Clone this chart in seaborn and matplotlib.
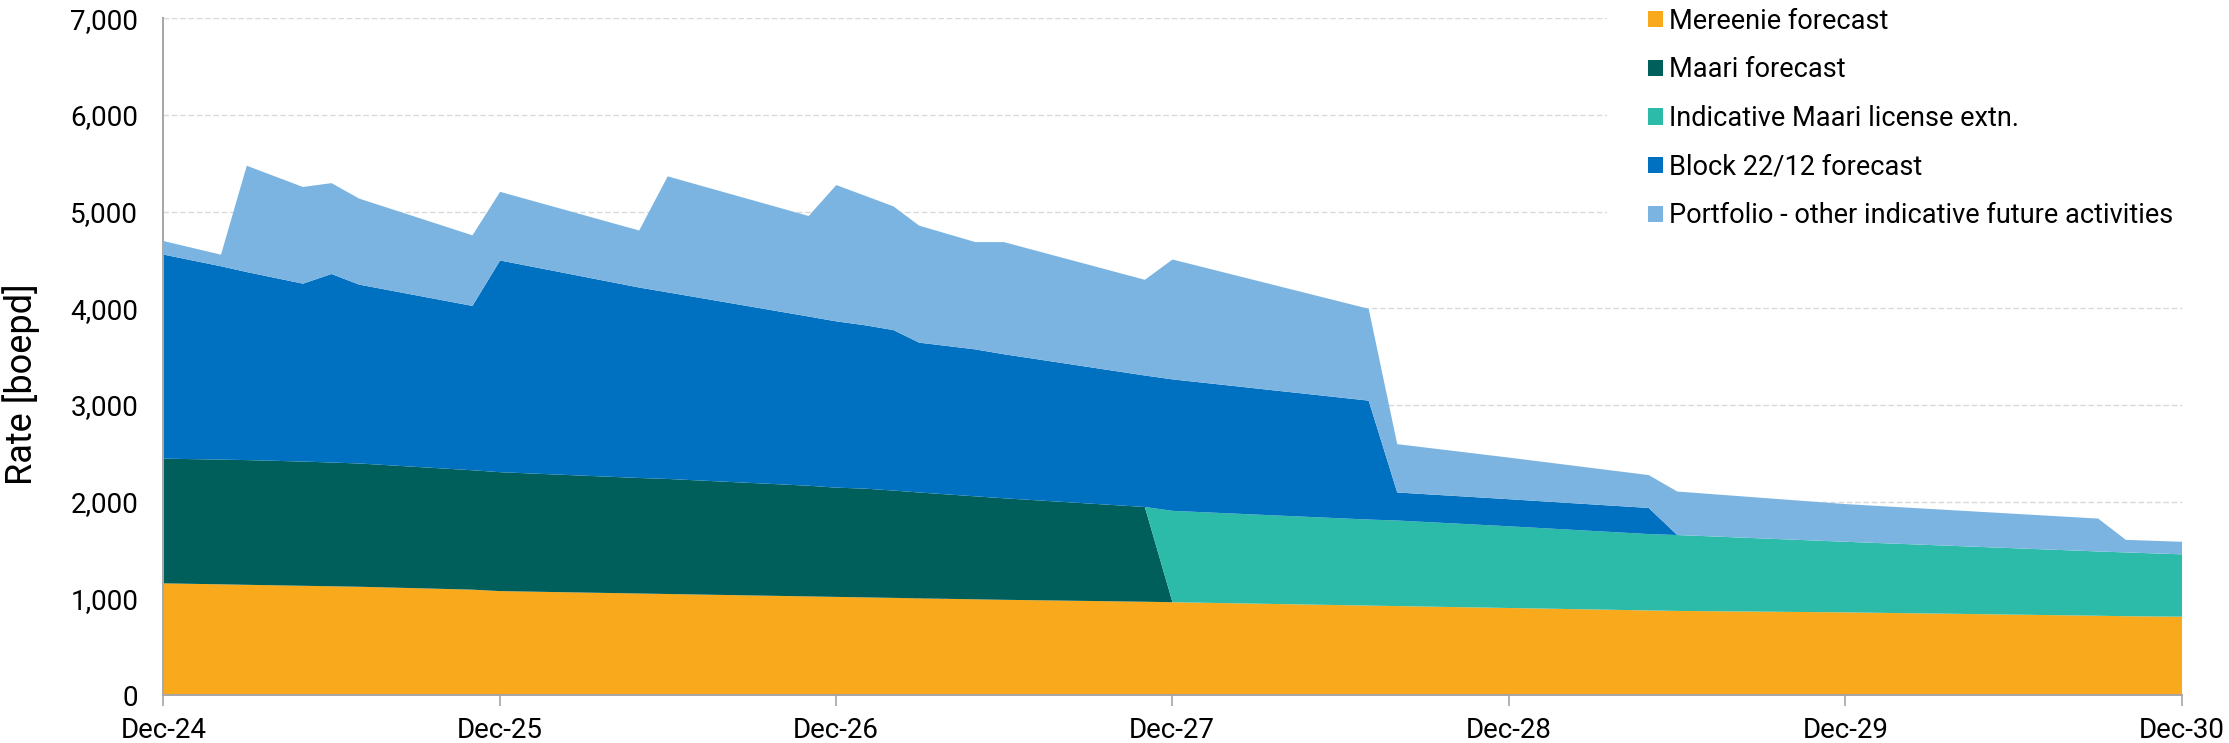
import pandas as pd
import numpy as np
import matplotlib.pyplot as plt
import matplotlib.dates as mdates
from matplotlib.patches import Patch
from matplotlib.ticker import FuncFormatter
import seaborn as sns

# ── 1. Data (boepd) at its break points ──
months = ['2024-12', '2025-02', '2025-03', '2025-05', '2025-06', '2025-07', '2025-11',
          '2025-12', '2026-05', '2026-06', '2026-11', '2026-12', '2027-01', '2027-02',
          '2027-03', '2027-05', '2027-06', '2027-11', '2027-12', '2028-07', '2028-08',
          '2028-12', '2029-05', '2029-06', '2029-12', '2030-09', '2030-10', '2030-12']

mereenie = [1160, 1150, 1145, 1135, 1130, 1125, 1095, 1080, 1055, 1050, 1025, 1020, 1015, 1010,
            1005, 995, 990, 970, 965, 930, 925, 905, 880, 875, 860, 825, 820, 815]
maari = [1290, 1290, 1290, 1285, 1280, 1275, 1235, 1230, 1195, 1190, 1145, 1130, 1125, 1110,
         1095, 1065, 1050, 980, 0, 0, 0, 0, 0, 0, 0, 0, 0, 0]
maari_ext = [0, 0, 0, 0, 0, 0, 0, 0, 0, 0, 0, 0, 0, 0,
             0, 0, 0, 0, 945, 890, 885, 845, 790, 785, 730, 665, 660, 645]
block = [2110, 2000, 1945, 1840, 1950, 1850, 1700, 2190, 1970, 1930, 1750, 1720, 1690, 1660,
         1550, 1520, 1490, 1360, 1360, 1230, 290, 280, 270, 0, 0, 0, 0, 0]
portfolio = [140, 120, 1100, 1000, 940, 890, 730, 710, 590, 1200, 1040, 1410, 1340, 1280,
             1210, 1110, 1160, 990, 1240, 950, 500, 430, 340, 450, 390, 340, 130, 130]

labels = ['Mereenie forecast', 'Maari forecast', 'Indicative Maari license extn.',
          'Block 22/12 forecast', 'Portfolio - other indicative future activities']
colors = ['#F9AA1C', '#005F5B', '#2BBBA8', '#0070C0', '#7BB4E1']

df = pd.DataFrame({'month': pd.to_datetime(months), 'Mereenie': mereenie, 'Maari': maari,
                   'Maari ext': maari_ext, 'Block': block, 'Portfolio': portfolio})

# ── 2. Style ────────────────────────────────────────────────
sns.set_theme(style='white')
plt.rcParams['font.family'] = ['Roboto', 'DejaVu Sans']
plt.rcParams['text.color'] = '#000000'

fig = plt.figure(figsize=(22.29, 7.43), dpi=100)
ax = fig.add_axes([0.0733, 0.0646, 0.9054, 0.9108])

# ── 3. Stacked areas ────────────────────────────────────────
ax.stackplot(df['month'], df['Mereenie'], df['Maari'], df['Maari ext'], df['Block'],
             df['Portfolio'], colors=colors, linewidth=0, zorder=2)

ax.set_xlim(df['month'].iloc[0], df['month'].iloc[-1])
ax.set_ylim(0, 7000)
ax.set_yticks(np.arange(0, 7001, 1000))
ax.yaxis.set_major_formatter(FuncFormatter(lambda v, p: f'{v:,.0f}'))
ax.xaxis.set_major_locator(mdates.MonthLocator(bymonth=12))
ax.xaxis.set_major_formatter(mdates.DateFormatter('%b-%y'))

ax.set_axisbelow(True)
ax.yaxis.grid(True, color='#D9D9D9', linestyle=(0, (4, 2)), linewidth=1)
ax.xaxis.grid(False)

sns.despine(ax=ax)
for s in ['left', 'bottom']:
    ax.spines[s].set_color('#A6A6A6')
    ax.spines[s].set_linewidth(1.4)

ax.tick_params(axis='y', length=0, pad=18, labelsize=20, labelcolor='black')
ax.tick_params(axis='x', length=8, width=1.2, color='#A6A6A6', direction='out',
               pad=8, labelsize=20, labelcolor='black', bottom=True)

ax.set_ylabel('Rate [boepd]', fontsize=26, color='black')
ax.yaxis.set_label_coords(-0.061, 0.46)

handles = [Patch(facecolor=c, edgecolor='none') for c in colors]
ax.legend(handles, labels, loc='upper left', bbox_to_anchor=(1607 / 2229, 1 + 33 / 743),
          bbox_transform=fig.transFigure, borderaxespad=0, borderpad=1.5, fontsize=19.5,
          labelspacing=0.80, handlelength=0.55, handleheight=0.55, handletextpad=0.25,
          frameon=True, facecolor='white', edgecolor='none', framealpha=1, fancybox=False)

plt.savefig('out.png', dpi=100)
plt.close()
